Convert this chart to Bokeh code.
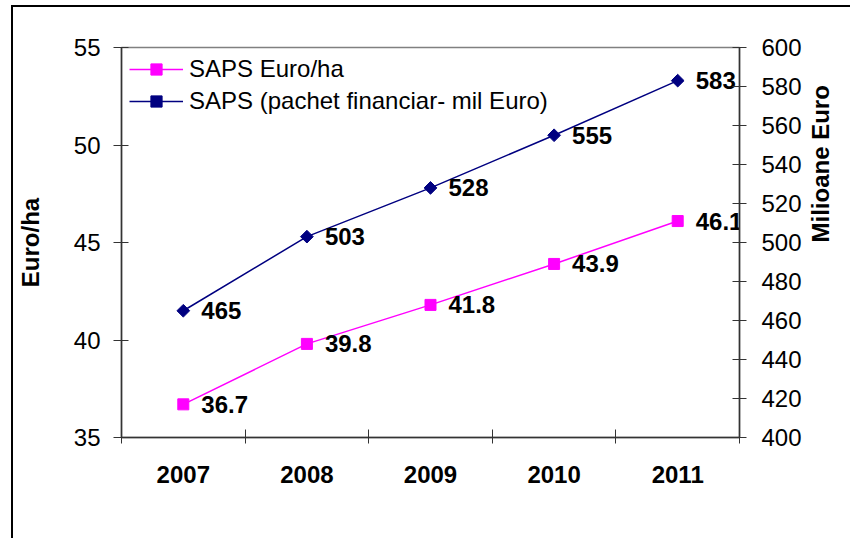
import math
from bokeh.plotting import figure
from bokeh.models import (Range1d, LinearAxis, CategoricalAxis, FixedTicker, Legend,
                          LegendItem, ColumnDataSource)
from bokeh.core.properties import value
from bokeh.embed import file_html
from bokeh.resources import INLINE

# ---- data ----
years = ["2007", "2008", "2009", "2010", "2011"]
saps_euro_ha = [36.7, 39.8, 41.8, 43.9, 46.1]
saps_pachet = [465, 503, 528, 555, 583]
left_ticks = [35, 40, 45, 50, 55]
right_ticks = [400, 420, 440, 460, 480, 500, 520, 540, 560, 580, 600]
series_names = ["SAPS Euro/ha", "SAPS (pachet financiar- mil Euro)"]
left_title = "Euro/ha"
right_title = "Milioane Euro"

FONT = "Liberation Sans"
AXIS_COLOR = "#333333"

src = ColumnDataSource(dict(
    year=years,
    euro=saps_euro_ha,
    pachet=saps_pachet,
    euro_lbl=[f"{v:.1f}" for v in saps_euro_ha],
    pachet_lbl=[str(v) for v in saps_pachet],
))

p = figure(width=850, height=538, x_range=years, y_range=Range1d(35, 55),
           output_backend="svg", toolbar_location=None, x_axis_location=None,
           min_border_left=121, min_border_right=107, min_border_top=47,
           min_border_bottom=101)
p.extra_y_ranges = {"right": Range1d(400, 600)}
p.grid.visible = False
p.outline_line_color = "#808080"
p.outline_line_width = 1.5
p.background_fill_color = "white"
p.border_fill_alpha = 0
# outer chart frame: left and top edges (the rest lies outside the window)
p.styles = {
    "background": "linear-gradient(#000, #000) 11px 5px / 2px 100% no-repeat, "
                  "linear-gradient(#000, #000) 11px 5px / 100% 2px no-repeat, #fff",
}

def style_axis(ax):
    ax.axis_line_color = AXIS_COLOR
    ax.axis_line_width = 1.5
    ax.major_tick_line_color = AXIS_COLOR
    ax.major_tick_line_width = 1
    ax.minor_tick_in = 0
    ax.minor_tick_out = 0
    ax.major_label_text_font = FONT
    ax.major_label_text_color = "black"

# left axis
ya = p.yaxis[0]
style_axis(ya)
ya.ticker = FixedTicker(ticks=left_ticks)
ya.major_tick_in = 7
ya.major_tick_out = 8
ya.major_label_text_font_size = "24px"
ya.major_label_standoff = 13
ya.axis_label = left_title
ya.axis_label_text_font = FONT
ya.axis_label_text_font_style = "bold"
ya.axis_label_text_font_size = "24px"
ya.axis_label_text_color = "black"
ya.axis_label_standoff = 27

# right axis
ra = LinearAxis(y_range_name="right", ticker=FixedTicker(ticks=right_ticks))
style_axis(ra)
ra.major_tick_in = 7
ra.major_tick_out = 7
ra.major_label_text_font_size = "24px"
ra.major_label_standoff = 15
ra.axis_label = right_title
ra.axis_label_text_font = FONT
ra.axis_label_text_font_style = "bold"
ra.axis_label_text_font_size = "24px"
ra.axis_label_text_color = "black"
ra.axis_label_standoff = 16
try:
    ra.axis_label_orientation = math.pi / 2
except Exception:
    pass
p.add_layout(ra, "right")

# bottom: tick-only axis at category boundaries (synthetic coords), then the category labels
edge_ticks = list(range(len(years) + 1))
ta = LinearAxis(ticker=FixedTicker(ticks=edge_ticks))
style_axis(ta)
ta.major_tick_in = 8
ta.major_tick_out = 6
ta.major_label_text_font_size = "0px"
ta.major_label_standoff = 0
p.add_layout(ta, "below")

ca = CategoricalAxis()
ca.axis_line_color = None
ca.major_tick_line_color = None
ca.major_tick_in = 0
ca.major_tick_out = 0
ca.minor_tick_in = 0
ca.minor_tick_out = 0
ca.major_label_text_font = FONT
ca.major_label_text_font_style = "bold"
ca.major_label_text_font_size = "24px"
ca.major_label_text_color = "black"
ca.major_label_standoff = 22
p.add_layout(ca, "below")

# series
l1 = p.line("year", "euro", source=src, line_color="#FF00FF", line_width=1.5)
s1 = p.scatter("year", "euro", source=src, marker="square", size=11,
               fill_color="#FF00FF", line_color="#FF00FF")
l2 = p.line("year", "pachet", source=src, y_range_name="right",
            line_color="#000080", line_width=1.5)
s2 = p.scatter("year", "pachet", source=src, y_range_name="right", marker="square",
               angle=math.pi / 4, size=9, fill_color="#000080", line_color="#000080")

p.text("year", "euro", text="euro_lbl", source=src, x_offset=18,
       text_align="left", text_baseline="middle", text_font=value(FONT),
       text_font_style="bold", text_font_size="24px", text_color="black")
p.text("year", "pachet", text="pachet_lbl", source=src, y_range_name="right",
       x_offset=18, text_align="left", text_baseline="middle", text_font=value(FONT),
       text_font_style="bold", text_font_size="24px", text_color="black")

# legend in the empty upper-left part of the plot area
legend = Legend(items=[LegendItem(label=series_names[0], renderers=[l1, s1]),
                       LegendItem(label=series_names[1], renderers=[l2, s2])],
                orientation="vertical", location="top_left")
legend.padding = 4
legend.margin = 8
legend.spacing = 4
legend.label_standoff = 6
legend.glyph_width = 54
legend.glyph_height = 28
legend.label_text_font = FONT
legend.label_text_font_size = "24px"
legend.label_text_color = "black"
legend.border_line_color = None
legend.background_fill_alpha = 0
p.add_layout(legend, "center")

open("out.html", "w").write(file_html(p, INLINE))
